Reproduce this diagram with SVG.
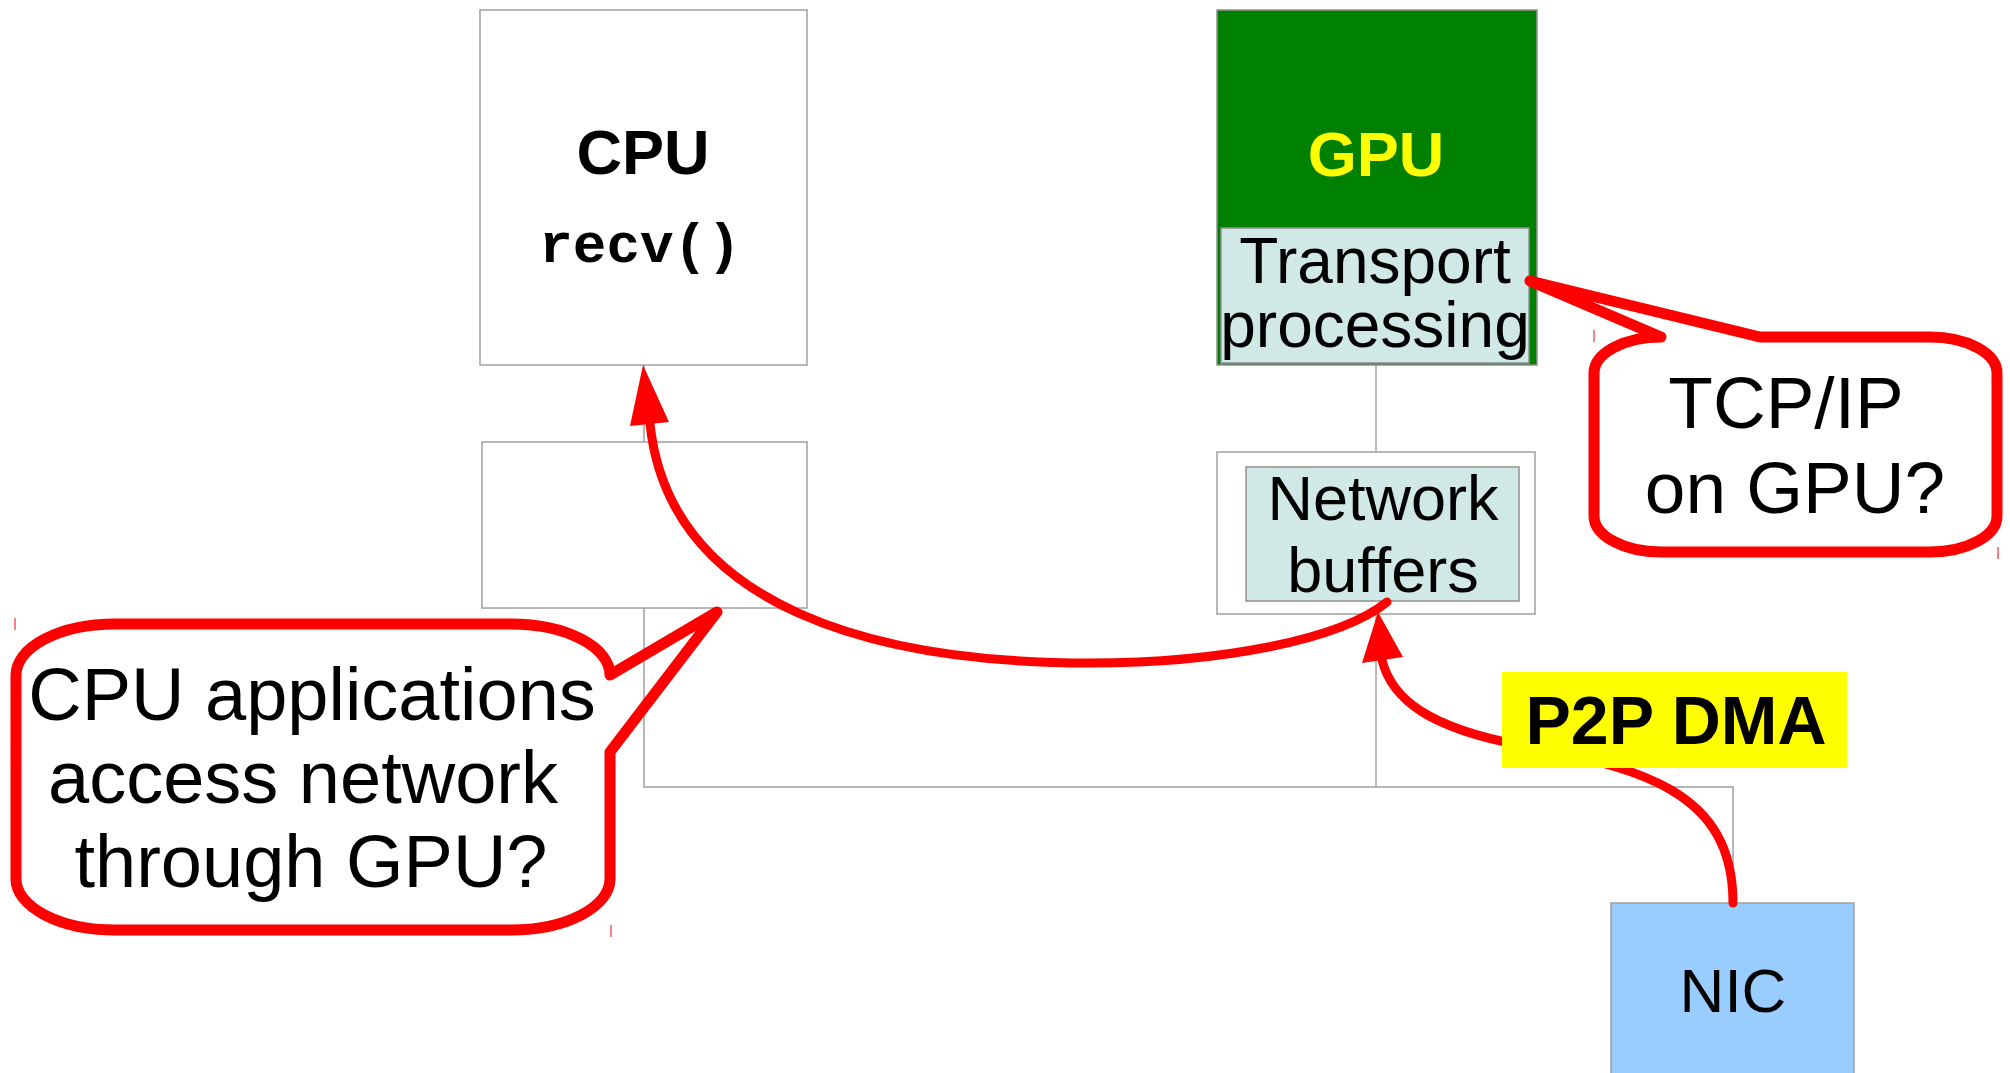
<svg xmlns="http://www.w3.org/2000/svg" width="2010" height="1073" viewBox="0 0 2010 1073">
  <style>
    .box { fill: #ffffff; stroke: #a0a0a0; stroke-width: 1.5; }
    .inner { fill: #d0e8e6; stroke: #909090; stroke-width: 1.5; }
    .wire { fill: none; stroke: #a0a0a0; stroke-width: 1.5; }
    .flow { fill: none; stroke: #ff0000; stroke-width: 9; stroke-linecap: round; }
    .head { fill: #ff0000; stroke: none; }
    .bubble { fill: none; stroke: #ff0000; stroke-width: 11; stroke-linejoin: round; }
    .tick { stroke: #ff0000; stroke-width: 1; }
    .sans { font-family: "Liberation Sans", Arial, sans-serif; text-anchor: middle; }
    .mono { font-family: "Liberation Mono", "Courier New", monospace; text-anchor: middle; font-weight: bold; }
  </style>

  <rect width="2010" height="1073" fill="#ffffff"/>

  <!-- bus wiring between components -->
  <g id="connectors">
    <path class="wire" d="M644,365 V442"/>
    <path class="wire" d="M644,608 V787 H1733 V903"/>
    <path class="wire" d="M1376,365 V452"/>
    <path class="wire" d="M1376,614 V787"/>
  </g>

  <g id="cpu">
    <rect class="box" x="480" y="10" width="327" height="355"/>
    <text class="sans" x="643" y="174" font-size="63" font-weight="bold">CPU</text>
    <text class="mono" x="640" y="262" font-size="56">recv()</text>
  </g>

  <g id="chipset">
    <rect class="box" x="482" y="442" width="325" height="166"/>
  </g>

  <g id="gpu">
    <rect x="1217" y="10" width="320" height="355" fill="#008000" stroke="#909090" stroke-width="1.5"/>
    <text class="sans" x="1376" y="176" font-size="63" font-weight="bold" fill="#ffff00">GPU</text>
    <rect class="inner" x="1221" y="228" width="308" height="135"/>
    <text class="sans" x="1375" y="283" font-size="64">Transport</text>
    <text class="sans" x="1375" y="347" font-size="64">processing</text>
  </g>

  <g id="gpu-memory">
    <rect class="box" x="1217" y="452" width="318" height="162"/>
    <rect class="inner" x="1246" y="467" width="273" height="134"/>
    <text class="sans" x="1383" y="520" font-size="63">Network</text>
    <text class="sans" x="1383" y="592" font-size="63">buffers</text>
  </g>

  <g id="nic">
    <rect x="1611" y="903" width="243" height="180" fill="#99ccff" stroke="#a0a0a0" stroke-width="1.5"/>
    <text class="sans" x="1733" y="1012" font-size="62">NIC</text>
  </g>

  <!-- data paths -->
  <g id="flows">
    <path class="flow" d="M1733,903 C1733,790 1640,768 1520,745 C1430,728 1392,700 1382,660"/>
    <polygon class="head" points="1378,612 1403,657 1362,663"/>
    <path class="flow" d="M1387,602 C1340,640 1220,663 1090,663 C880,663 670,610 650,424"/>
    <polygon class="head" points="643,365 669,422 630,426"/>
  </g>

  <g id="p2p-label">
    <rect x="1502" y="672" width="345" height="96" fill="#ffff00"/>
    <text class="sans" x="1676" y="744" font-size="68" font-weight="bold">P2P DMA</text>
  </g>

  <g id="callout-cpu-apps">
    <path class="bubble" d="M115,624 H511 A99,51 0 0 1 610,675 L717,612 L610,752 V879 A99,51 0 0 1 511,930 H115 A99,51 0 0 1 16,879 V675 A99,51 0 0 1 115,624 Z"/>
    <line class="tick" x1="15" y1="618" x2="15" y2="630"/>
    <line class="tick" x1="611" y1="925" x2="611" y2="937"/>
    <text class="sans" x="312" y="720" font-size="74">CPU applications</text>
    <text class="sans" x="303" y="803" font-size="74">access network</text>
    <text class="sans" x="311" y="887" font-size="74">through GPU?</text>
  </g>

  <g id="callout-tcpip">
    <path class="bubble" d="M1661,337 L1530,281 L1760,337 H1930 A67,36 0 0 1 1997,373 V516 A67,36 0 0 1 1930,552 H1661 A67,36 0 0 1 1594,516 V373 A67,36 0 0 1 1661,337 Z"/>
    <line class="tick" x1="1594" y1="330" x2="1594" y2="342"/>
    <line class="tick" x1="1998" y1="547" x2="1998" y2="559"/>
    <text class="sans" x="1786" y="428" font-size="73">TCP/IP</text>
    <text class="sans" x="1795" y="513" font-size="73">on GPU?</text>
  </g>
</svg>
